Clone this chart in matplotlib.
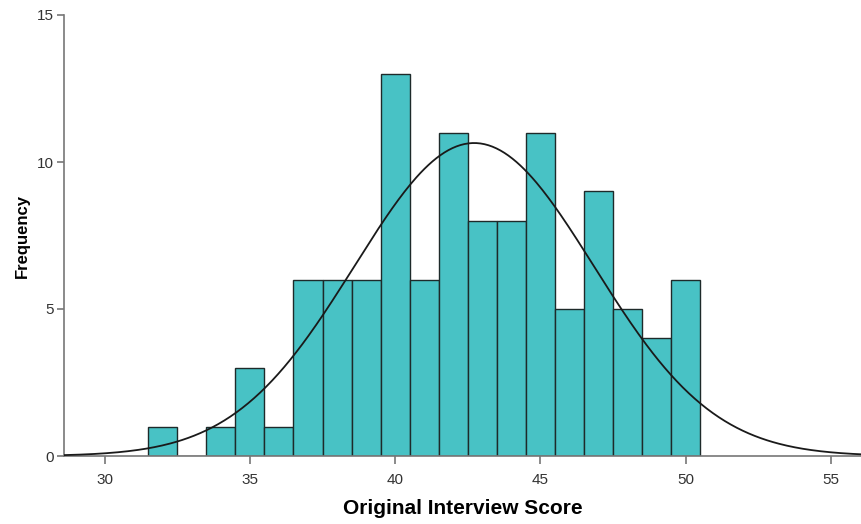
import numpy as np
import matplotlib
matplotlib.use("Agg")
import matplotlib.pyplot as plt

plt.rcParams['font.family'] = ['Liberation Sans', 'DejaVu Sans']

# score bins (centre of each 1-point bin) and how many fall in each
scores = [32, 33, 34, 35, 36, 37, 38, 39, 40, 41, 42, 43, 44, 45, 46, 47, 48, 49, 50]
counts = [1, 0, 1, 3, 1, 6, 6, 6, 13, 6, 11, 8, 8, 11, 5, 9, 5, 4, 6]
xticks = [30, 35, 40, 45, 50, 55]
yticks = [0, 5, 10, 15]

scores = np.array(scores)
counts = np.array(counts)
n = counts.sum()
mean = (scores * counts).sum() / n
sd = np.sqrt(((scores - mean) ** 2 * counts).sum() / (n - 1))

fig = plt.figure(figsize=(8.62, 5.24), dpi=100)
ax = fig.add_axes([64/862, 1 - 456/524, 1 - 64/862, (456 - 15)/524])

ax.bar(scores, counts, width=1.0, color='#48c2c5', edgecolor='#1e2a2a', linewidth=1.0, zorder=2)

xs = np.linspace(28.6, 56.1, 400)
ys = n * 1.0 / (sd * np.sqrt(2 * np.pi)) * np.exp(-0.5 * ((xs - mean) / sd) ** 2)
ax.plot(xs, ys, color='#1a1a1a', linewidth=1.3, zorder=3)

ax.set_xlim(28.6, 56.07)
ax.set_ylim(0, 15)
ax.set_xticks(xticks)
ax.set_yticks(yticks)
ax.spines['top'].set_visible(False)
ax.spines['right'].set_visible(False)
for s in ['left', 'bottom']:
    ax.spines[s].set_color('#777777')
    ax.spines[s].set_linewidth(1.2)
ax.tick_params(axis='both', colors='#777777', labelcolor='#333333', labelsize=11,
               length=6, width=1.2, direction='out')
ax.tick_params(axis='y', length=5, pad=2)
ax.tick_params(axis='x', pad=6)

ax.set_xlabel('Original Interview Score', fontsize=15, fontweight='bold', labelpad=9)
ax.set_ylabel('Frequency', fontsize=12, fontweight='bold', labelpad=5)

fig.savefig('out.png', dpi=100)
